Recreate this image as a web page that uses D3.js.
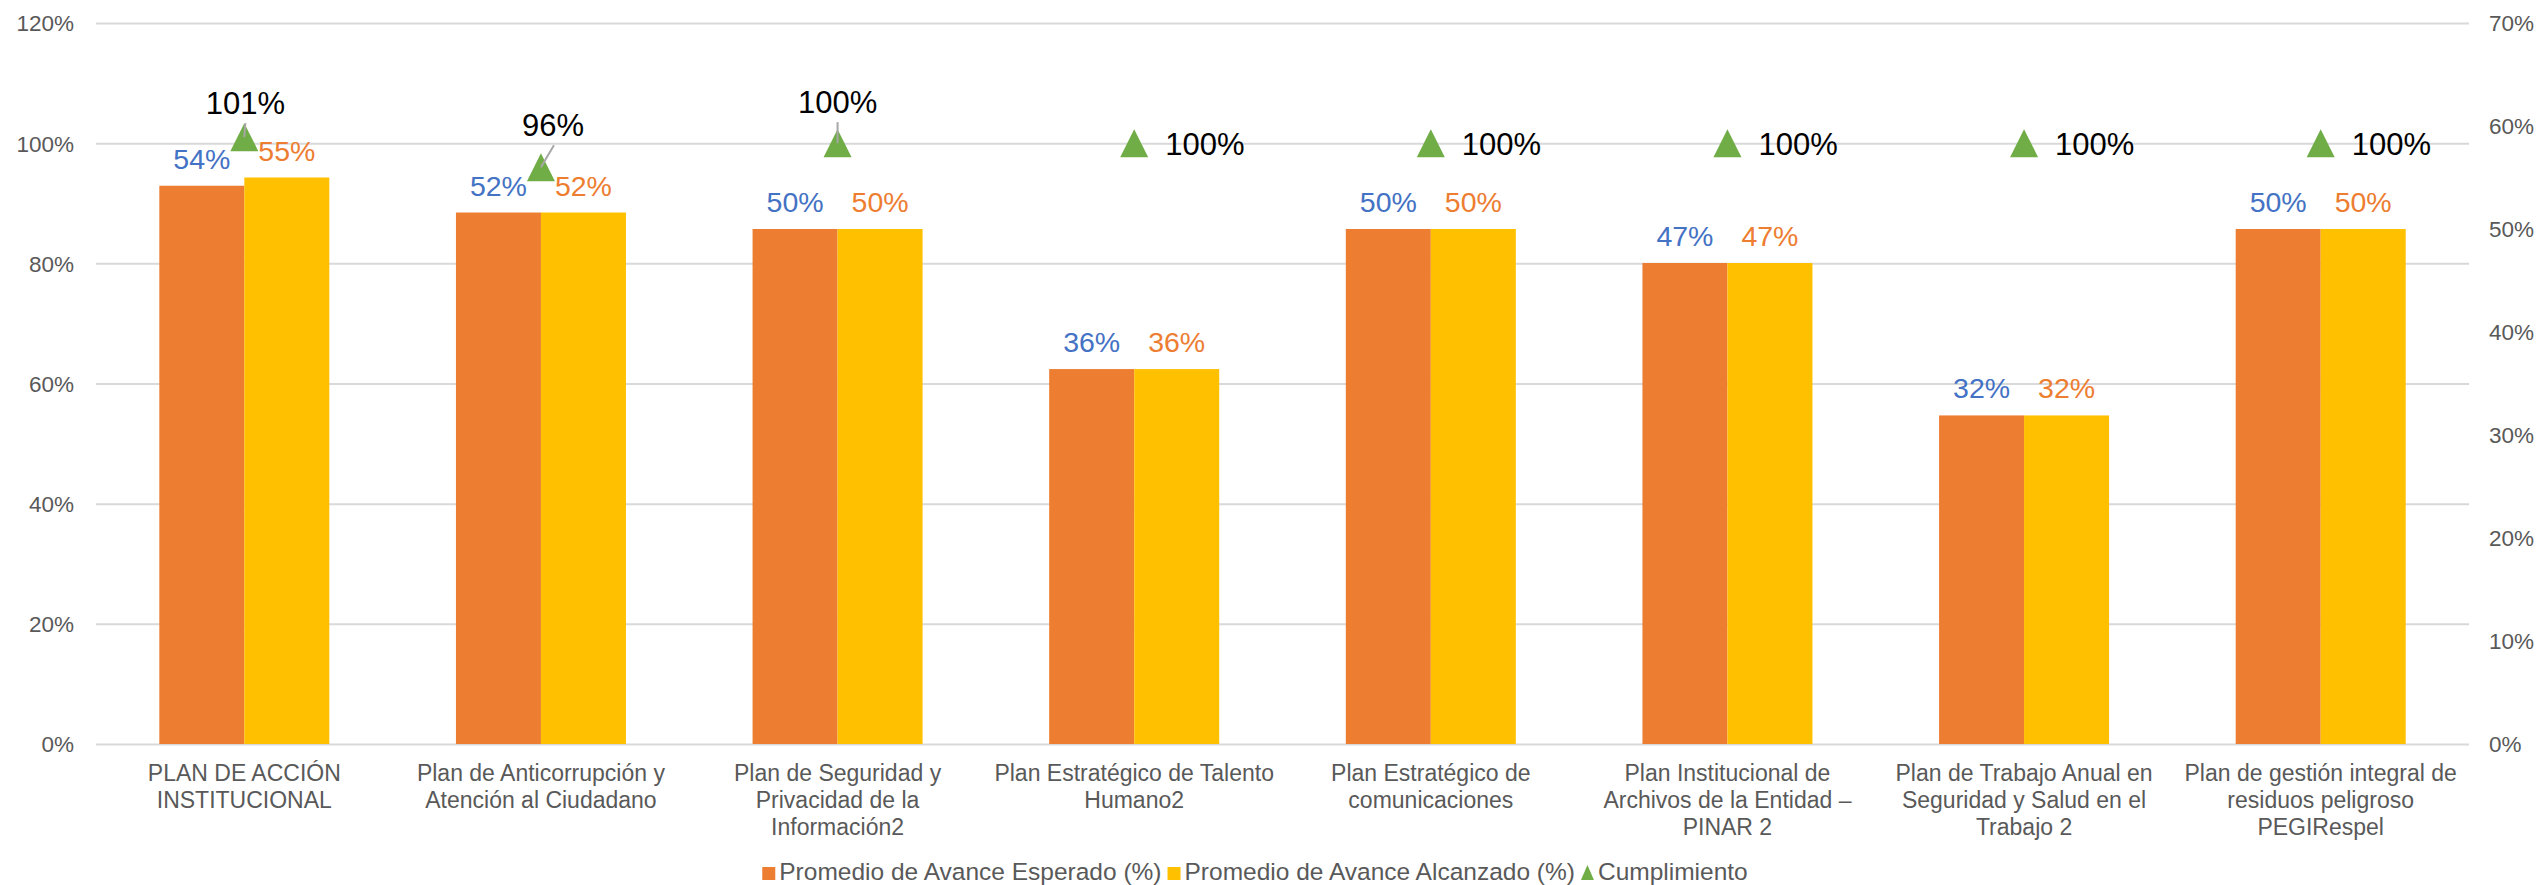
<!DOCTYPE html>
<html>
<head>
<meta charset="utf-8">
<script src="https://cdn.jsdelivr.net/npm/d3@7/dist/d3.min.js"></script>
<style>
  html, body { margin: 0; padding: 0; background: #fff; }
  svg { display: block; }
  text { font-family: "Liberation Sans", Arial, sans-serif; }
</style>
</head>
<body>
<svg id="chart" width="2542" height="885"></svg>
<script>
// ---------------- DATA ----------------
const categories = [
  "PLAN DE ACCIÓN INSTITUCIONAL",
  "Plan de Anticorrupción y Atención al Ciudadano",
  "Plan de Seguridad y Privacidad de la Información2",
  "Plan Estratégico de Talento Humano2",
  "Plan Estratégico de comunicaciones",
  "Plan Institucional de Archivos de la Entidad – PINAR 2",
  "Plan de Trabajo Anual en Seguridad y Salud en el Trabajo 2",
  "Plan de gestión integral de residuos peligroso PEGIRespel"
];
const categoryLines = [
  ["PLAN DE ACCIÓN", "INSTITUCIONAL"],
  ["Plan de Anticorrupción y", "Atención al Ciudadano"],
  ["Plan de Seguridad y", "Privacidad de la", "Información2"],
  ["Plan Estratégico de Talento", "Humano2"],
  ["Plan Estratégico de", "comunicaciones"],
  ["Plan Institucional de", "Archivos de la Entidad –", "PINAR 2"],
  ["Plan de Trabajo Anual en", "Seguridad y Salud en el", "Trabajo 2"],
  ["Plan de gestión integral de", "residuos peligroso", "PEGIRespel"]
];
const seriesNames = [
  "Promedio de Avance Esperado (%)",
  "Promedio de Avance Alcanzado (%)",
  "Cumplimiento"
];
const esperado    = [54.2, 51.6, 50.0, 36.4, 50.0, 46.7, 31.9, 50.0]; // right axis
const alcanzado   = [55.0, 51.6, 50.0, 36.4, 50.0, 46.7, 31.9, 50.0]; // right axis
const cumplimiento = [101, 96, 100, 100, 100, 100, 100, 100];         // left axis
const leftTicks  = [0, 20, 40, 60, 80, 100, 120];
const rightTicks = [0, 10, 20, 30, 40, 50, 60, 70];

// label placement for Cumplimiento labels (layout, not data)
const cumplLabelPlacement = [
  { mode: "above", dx: 1,  dy: -34 },
  { mode: "above", dx: 12, dy: -42 },
  { mode: "above", dx: 0,  dy: -41 },
  { mode: "right" }, { mode: "right" }, { mode: "right" }, { mode: "right" }, { mode: "right" }
];

// ---------------- STYLE ----------------
const colors = { esp: "#ED7D31", alc: "#FFC000", cum: "#70AD47",
                 espLbl: "#4472C4", alcLbl: "#ED7D31", grid: "#D9D9D9", axisText: "#595959" };

const svg = d3.select("#chart");
const W = 2542, H = 885;
const plot = { left: 96, right: 2469, top: 23, bottom: 744 };

svg.append("rect").attr("width", W).attr("height", H).attr("fill", "#fff");

const yLeft = d3.scaleLinear().domain([0, 120]).range([plot.bottom, plot.top]);
const yRight = d3.scaleLinear().domain([0, 70]).range([plot.bottom, plot.top]);

const p = 1 - 170 / ((plot.right - plot.left) / categories.length);
const x0 = d3.scaleBand().domain(categories).range([plot.left, plot.right])
  .paddingInner(p).paddingOuter(p / 2);
const x1 = d3.scaleBand().domain(["esp", "alc"]).range([0, x0.bandwidth()]).padding(0);
const xc = c => x0(c) + x0.bandwidth() / 2;

// gridlines
const gridAxis = d3.axisLeft(yLeft).tickValues(leftTicks)
  .tickSize(-(plot.right - plot.left)).tickFormat("");
const gG = svg.append("g").attr("transform", `translate(${plot.left},0)`).call(gridAxis);
gG.select(".domain").remove();
gG.selectAll("line").attr("stroke", colors.grid).attr("stroke-width", 2);

// left axis labels
const lAxis = d3.axisLeft(yLeft).tickValues(leftTicks).tickSize(0).tickPadding(0)
  .tickFormat(d => d + "%");
const lG = svg.append("g").attr("transform", `translate(74,0)`).call(lAxis);
lG.select(".domain").remove();
lG.selectAll("text").attr("fill", colors.axisText).attr("font-size", 22.5)
  .attr("font-family", "Liberation Sans, Arial, sans-serif").attr("dy", "0.35em");

// right axis labels
const rAxis = d3.axisRight(yRight).tickValues(rightTicks).tickSize(0).tickPadding(0)
  .tickFormat(d => d + "%");
const rG = svg.append("g").attr("transform", `translate(2489,0)`).call(rAxis);
rG.select(".domain").remove();
rG.selectAll("text").attr("fill", colors.axisText).attr("font-size", 22.5)
  .attr("font-family", "Liberation Sans, Arial, sans-serif").attr("dy", "0.35em");

// bars
const barData = [];
categories.forEach((c, i) => {
  barData.push({ c, key: "esp", v: esperado[i] });
  barData.push({ c, key: "alc", v: alcanzado[i] });
});
svg.append("g").selectAll("rect").data(barData).join("rect")
  .attr("x", d => x0(d.c) + x1(d.key))
  .attr("width", x1.bandwidth())
  .attr("y", d => yRight(d.v))
  .attr("height", d => yRight(0) - yRight(d.v))
  .attr("fill", d => d.key === "esp" ? colors.esp : colors.alc);

// bar labels
svg.append("g").selectAll("text").data(barData).join("text")
  .attr("x", d => x0(d.c) + x1(d.key) + x1.bandwidth() / 2)
  .attr("y", d => yRight(d.v) - 17)
  .attr("text-anchor", "middle")
  .attr("font-size", 28.5)
  .attr("fill", d => d.key === "esp" ? colors.espLbl : colors.alcLbl)
  .text(d => Math.round(d.v) + "%");

// cumplimiento markers
const cumG = svg.append("g");
const pts = categories.map((c, i) => ({ c, i, v: cumplimiento[i], x: xc(c), y: yLeft(cumplimiento[i]) }));
cumG.selectAll("path.m").data(pts).join("path").attr("class", "m")
  .attr("d", d => `M${d.x},${d.y - 14}L${d.x + 14},${d.y + 14}L${d.x - 14},${d.y + 14}Z`)
  .attr("fill", colors.cum);

// leader lines + labels
pts.forEach(d => {
  const pl = cumplLabelPlacement[d.i];
  if (pl.mode === "above") {
    const lx = d.x + pl.dx, ly = d.y + pl.dy;
    cumG.append("line")
      .attr("x1", lx + (pl.dx > 5 ? 1 : 0)).attr("y1", ly + 20)
      .attr("x2", d.x).attr("y2", d.y)
      .attr("stroke", "#A6A6A6").attr("stroke-width", 2);
    cumG.append("text").attr("x", lx).attr("y", ly + 11)
      .attr("text-anchor", "middle").attr("font-size", 31).attr("fill", "#000")
      .text(d.v + "%");
  } else {
    cumG.append("text").attr("x", d.x + 31).attr("y", d.y + 12)
      .attr("text-anchor", "start").attr("font-size", 31).attr("fill", "#000")
      .text(d.v + "%");
  }
});

// category labels
const catG = svg.append("g");
categories.forEach((c, i) => {
  const t = catG.append("text").attr("x", xc(c)).attr("text-anchor", "middle")
    .attr("font-size", 23).attr("fill", colors.axisText);
  categoryLines[i].forEach((ln, j) => {
    t.append("tspan").attr("x", xc(c)).attr("y", 781 + j * 27).text(ln);
  });
});

// legend
const legG = svg.append("g");
const legY = 880;
let cx = 0;
seriesNames.forEach((name, k) => {
  const g = legG.append("g");
  if (k < 2) {
    g.append("rect").attr("x", 0).attr("y", -13).attr("width", 13).attr("height", 13)
      .attr("fill", k === 0 ? colors.esp : colors.alc);
  } else {
    g.append("path").attr("d", "M6.5,-15L13,0L0,0Z").attr("fill", colors.cum);
  }
  const t = g.append("text").attr("x", 17).attr("y", 0).attr("font-size", 24.5)
    .attr("fill", colors.axisText).text(name);
  const w = 17 + t.node().getComputedTextLength();
  g.attr("transform", `translate(${cx},${legY})`);
  cx += w + 6;
});
const totalW = cx - 6;
legG.attr("transform", `translate(${1255 - totalW / 2},0)`);
</script>
</body>
</html>
